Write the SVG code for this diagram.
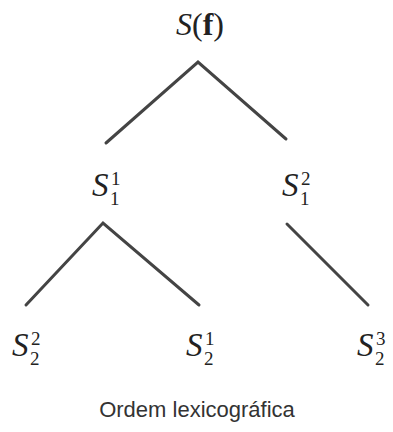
<svg xmlns="http://www.w3.org/2000/svg" width="393" height="432" viewBox="0 0 393 432">
<style>
.m{font-family:"Liberation Serif","DejaVu Serif",serif;fill:#222}
.b{font-size:33px;font-style:italic}
.s{font-size:19px}
.edge{stroke:#444;stroke-width:3;stroke-linecap:round;fill:none}
.cap{font-family:"Liberation Sans",Arial,sans-serif;font-size:22px;fill:#333}
</style>
<rect width="393" height="432" fill="#fff"/>
<g id="connectors">
<polyline class="edge" points="106,143 198,62 286,139"/>
<polyline class="edge" points="26,305 103,223 199,305"/>
<line class="edge" x1="287" y1="224" x2="368" y2="305"/>
</g>
<g id="root"><text class="m" x="200" y="35" text-anchor="middle" font-size="32"><tspan font-style="italic">S</tspan>(<tspan font-weight="bold">f</tspan>)</text></g>
<g id="s11"><text class="m b" x="92" y="196">S</text><text class="m s" x="111" y="185">1</text><text class="m s" x="110" y="205">1</text></g>
<g id="s12"><text class="m b" x="282" y="196">S</text><text class="m s" x="301" y="185">2</text><text class="m s" x="300" y="205">1</text></g>
<g id="s22"><text class="m b" x="12" y="356">S</text><text class="m s" x="31" y="345">2</text><text class="m s" x="30" y="365">2</text></g>
<g id="s21"><text class="m b" x="186" y="356">S</text><text class="m s" x="205" y="345">1</text><text class="m s" x="204" y="365">2</text></g>
<g id="s23"><text class="m b" x="357" y="356">S</text><text class="m s" x="376" y="345">3</text><text class="m s" x="375" y="365">2</text></g>
<g id="caption"><text class="cap" x="197" y="417" text-anchor="middle">Ordem lexicográfica</text></g>
</svg>
